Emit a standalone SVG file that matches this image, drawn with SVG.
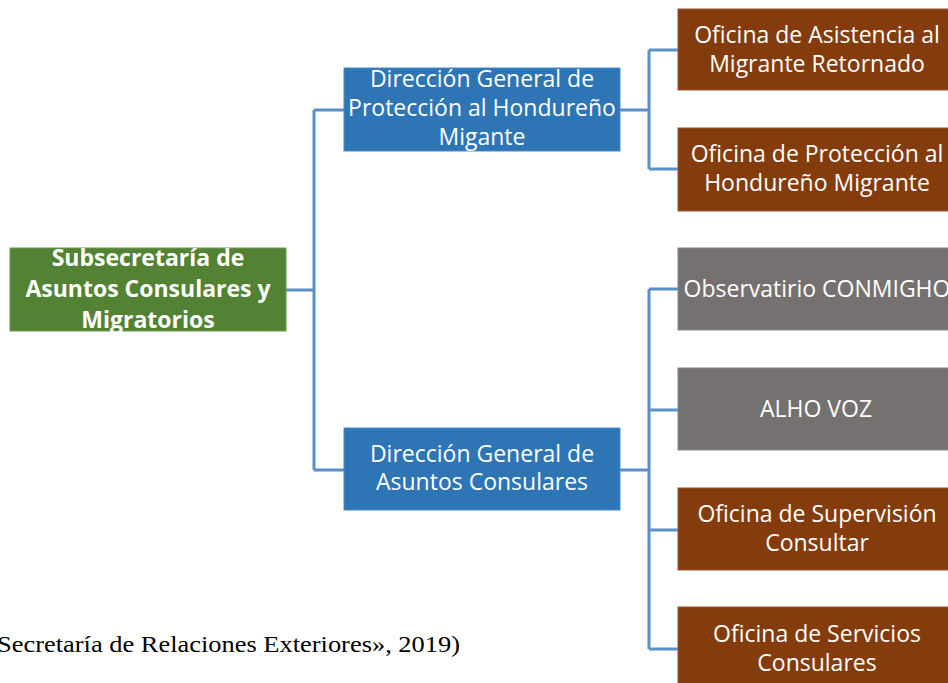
<svg xmlns="http://www.w3.org/2000/svg" width="948" height="683" viewBox="0 0 948 683">
<style>
.box{stroke-width:1}
.green{fill:#548235;stroke:#6a9a4a}
.blue{fill:#2E75B6;stroke:#4a8bc6}
.brown{fill:#843C0C;stroke:#9a5530}
.gray{fill:#767171;stroke:#8a8585}
.t{font-family:"Open Sans","Liberation Sans",Arial,sans-serif;font-size:23px;fill:#fff;text-anchor:middle}
.b{font-weight:bold;font-size:23px}
.c{fill:none;stroke:#5B8FC9;stroke-width:3}
.cite{font-family:"Liberation Serif","Times New Roman",Times,serif;font-size:24px;fill:#000}
</style>
<rect width="948" height="683" fill="#fff"/>
<g id="connectors">
<path class="c" d="M286 290H314M314 110V470M314 110H344M314 470H344"/>
<path class="c" d="M620 110H649M649 50V169M649 50H678M649 169H678"/>
<path class="c" d="M620 470H649M649 289V649M649 289H678M649 410H678M649 530H678M649 649H678"/>
</g>
<g id="n-root">
<rect class="box green" x="10" y="248" width="276" height="83"/>
<text class="t b" x="148" y="266">Subsecretaría de</text>
<text class="t b" x="148" y="297">Asuntos Consulares y</text>
<text class="t b" x="148" y="328">Migratorios</text>
</g>
<g id="n-dgphm">
<rect class="box blue" x="344" y="68" width="276" height="83"/>
<text class="t" x="482" y="87">Dirección General de</text>
<text class="t" x="482" y="116">Protección al Hondureño</text>
<text class="t" x="482" y="145">Migante</text>
</g>
<g id="n-dgac">
<rect class="box blue" x="344" y="428" width="276" height="82"/>
<text class="t" x="482" y="462">Dirección General de</text>
<text class="t" x="482" y="490">Asuntos Consulares</text>
</g>
<g id="n-oamr">
<rect class="box brown" x="678" y="9" width="280" height="81"/>
<text class="t" x="817" y="43">Oficina de Asistencia al</text>
<text class="t" x="817" y="72">Migrante Retornado</text>
</g>
<g id="n-ophm">
<rect class="box brown" x="678" y="128" width="280" height="83"/>
<text class="t" x="817" y="162">Oficina de Protección al</text>
<text class="t" x="817" y="191">Hondureño Migrante</text>
</g>
<g id="n-obs">
<rect class="box gray" x="678" y="248" width="280" height="82"/>
<text class="t" x="817" y="297">Observatirio CONMIGHO</text>
</g>
<g id="n-alho">
<rect class="box gray" x="678" y="368" width="280" height="82"/>
<text class="t" x="816" y="417">ALHO VOZ</text>
</g>
<g id="n-osc">
<rect class="box brown" x="678" y="488" width="280" height="82"/>
<text class="t" x="817" y="522">Oficina de Supervisión</text>
<text class="t" x="817" y="551">Consultar</text>
</g>
<g id="n-oscons">
<rect class="box brown" x="678" y="607" width="280" height="90"/>
<text class="t" x="817" y="642">Oficina de Servicios</text>
<text class="t" x="817" y="671">Consulares</text>
</g>
<text class="cite" x="-3" y="652" textLength="463" lengthAdjust="spacingAndGlyphs">Secretaría de Relaciones Exteriores», 2019)</text>
</svg>
